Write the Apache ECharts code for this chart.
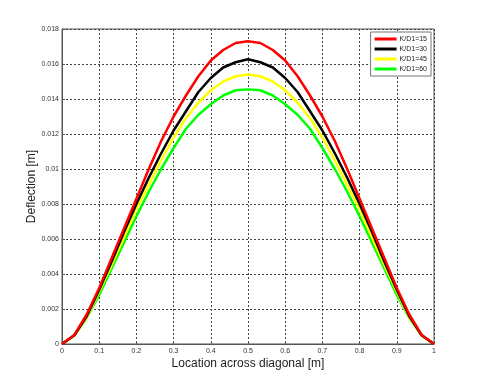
<!DOCTYPE html>
<html>
<head>
<meta charset="utf-8">
<script src="https://cdn.jsdelivr.net/npm/echarts@6/dist/echarts.min.js"></script>
<style>
html,body{margin:0;padding:0;background:#fff;}
#chart{width:480px;height:387px;}
</style>
</head>
<body>
<div id="chart"></div>
<script>
// Location across diagonal [m] (left half; right half mirrors it)
var xHalf = [0, 0.0333, 0.0667, 0.1, 0.1333, 0.1667, 0.2, 0.2333, 0.2667, 0.3, 0.3333, 0.3667, 0.4, 0.4333, 0.4667, 0.5];
var seriesNames = ['K/D1=15', 'K/D1=30', 'K/D1=45', 'K/D1=60'];
var redHalf    = [0, 0.00052, 0.0017, 0.0032, 0.0049, 0.0066, 0.0083, 0.0100, 0.0116, 0.0130, 0.0142, 0.0153, 0.0162, 0.0168, 0.0172, 0.0173];
var blackHalf  = [0, 0.0005, 0.0016, 0.0031, 0.0047, 0.0064, 0.0080, 0.0095, 0.0109, 0.0122, 0.0133, 0.0144, 0.0152, 0.0158, 0.0161, 0.01627];
var yellowHalf = [0, 0.0005, 0.0015, 0.0030, 0.0045, 0.0061, 0.0077, 0.0091, 0.0105, 0.0118, 0.0129, 0.0138, 0.0145, 0.0150, 0.0153, 0.0154];
var greenHalf  = [0, 0.0005, 0.0015, 0.0028, 0.0043, 0.0058, 0.0073, 0.0087, 0.0100, 0.0112, 0.0123, 0.0131, 0.0137, 0.0142, 0.0145, 0.01455];
var colors = ['#ff0000', '#000000', '#ffff00', '#00ff00'];
var xTicks = [0, 0.1, 0.2, 0.3, 0.4, 0.5, 0.6, 0.7, 0.8, 0.9, 1];
var yTicks = [0, 0.002, 0.004, 0.006, 0.008, 0.01, 0.012, 0.014, 0.016, 0.018];

function full(half) {
  var pts = [];
  for (var i = 0; i < xHalf.length; i++) pts.push([xHalf[i], half[i]]);
  for (var j = xHalf.length - 2; j >= 0; j--) pts.push([+(1 - xHalf[j]).toFixed(4), half[j]]);
  return pts;
}
var halves = [redHalf, blackHalf, yellowHalf, greenHalf];

var chart = echarts.init(document.getElementById('chart'), null, {renderer: 'canvas'});
var font = 'Liberation Sans, Arial, Helvetica, sans-serif';
chart.setOption({
  backgroundColor: '#ffffff',
  animation: false,
  grid: {left: 62, right: 46, top: 29, bottom: 43, show: true, borderColor: '#555', borderWidth: 1, backgroundColor: 'transparent'},
  legend: {
    orient: 'vertical', right: 49, top: 32,
    data: seriesNames.map(function(n){return {name: n, icon: 'rect'};}),
    itemWidth: 22, itemHeight: 3, itemGap: 2,
    backgroundColor: '#fff', borderColor: '#777', borderWidth: 1, padding: [3, 4, 3, 4],
    textStyle: {fontFamily: font, fontSize: 7, color: '#222', padding: [0, 0, 0, -2], lineHeight: 8}
  },
  xAxis: {
    type: 'value', min: 0, max: 1, interval: 0.1,
    name: 'Location across diagonal [m]', nameLocation: 'middle', nameGap: 14, nameMoveOverlap: false,
    nameTextStyle: {fontFamily: font, fontSize: 12, color: '#222'},
    axisLine: {show: true, lineStyle: {color: '#555'}},
    axisTick: {show: true, inside: true, length: 3, lineStyle: {color: '#555'}},
    axisLabel: {fontFamily: font, fontSize: 7, color: '#333', margin: 4,
      formatter: function(v){ var s = xTicks.filter(function(t){return Math.abs(t-v)<1e-9;}); return s.length ? String(s[0]) : ''; }},
    splitLine: {show: true, lineStyle: {color: '#444', type: [2, 2], width: 1}}
  },
  yAxis: {
    type: 'value', min: 0, max: 0.018, interval: 0.002,
    name: 'Deflection [m]', nameLocation: 'middle', nameGap: 24, nameMoveOverlap: false,
    nameTextStyle: {fontFamily: font, fontSize: 12, color: '#222'},
    axisLine: {show: true, lineStyle: {color: '#555'}},
    axisTick: {show: true, inside: true, length: 3, lineStyle: {color: '#555'}},
    axisLabel: {fontFamily: font, fontSize: 7, color: '#333', margin: 3,
      formatter: function(v){ var s = yTicks.filter(function(t){return Math.abs(t-v)<1e-9;}); return s.length ? String(s[0]) : ''; }},
    splitLine: {show: true, lineStyle: {color: '#444', type: [2, 2], width: 1}}
  },
  series: seriesNames.map(function(n, i){
    return {
      name: n, type: 'line', data: full(halves[i]), showSymbol: false, symbol: 'none',
      lineStyle: {color: colors[i], width: 2.5}, itemStyle: {color: colors[i]}, z: 10 - i
    };
  })
});
</script>
</body>
</html>
